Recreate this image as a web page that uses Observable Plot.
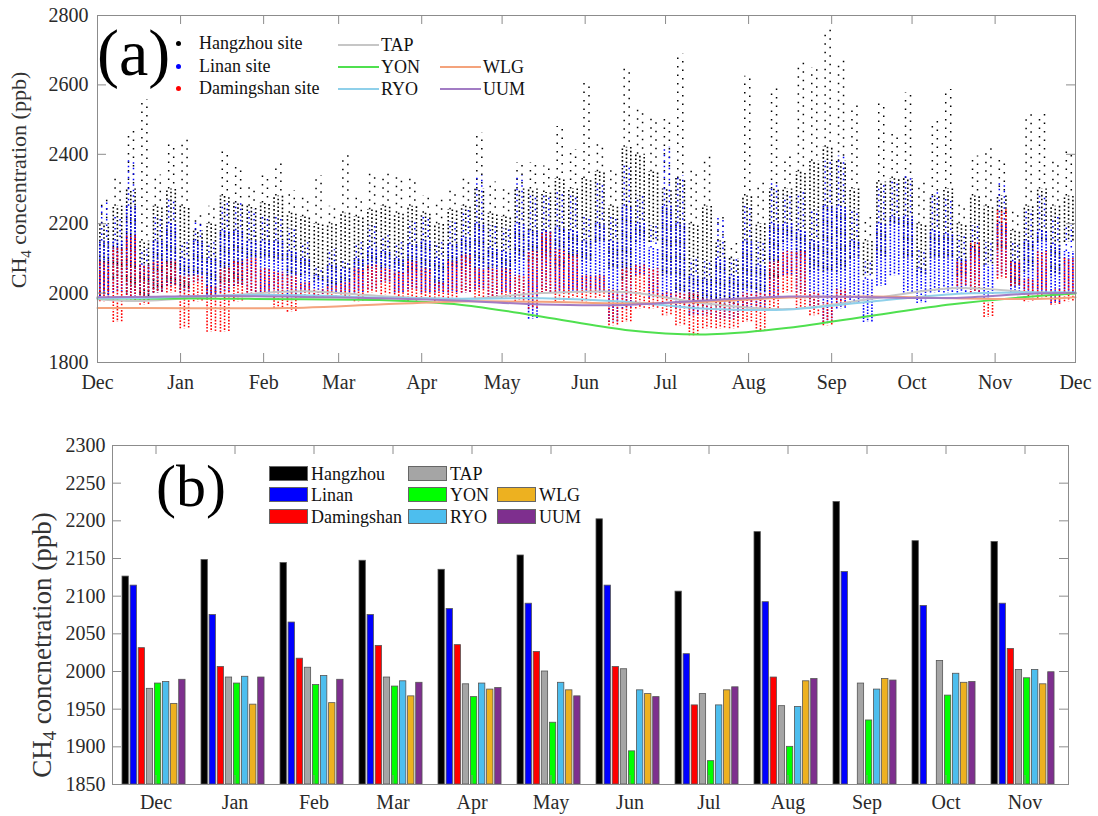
<!DOCTYPE html>
<html><head><meta charset="utf-8">
<script src="https://cdn.jsdelivr.net/npm/d3@7"></script>
<script src="https://cdn.jsdelivr.net/npm/@observablehq/plot@0.6"></script>
<style>
body{margin:0;background:#fff;}
#wrap{position:relative;width:1098px;height:816px;font-family:"Liberation Serif","Times New Roman",serif;color:#222;}
#wrap svg{display:block;font-family:"Liberation Serif","Times New Roman",serif !important;}
#wrap svg text{font-family:"Liberation Serif","Times New Roman",serif !important;}
.abs{position:absolute;white-space:nowrap;line-height:1;}
.ytitle{position:absolute;white-space:nowrap;transform:translate(-50%,-50%) rotate(-90deg);line-height:1;color:#333;}
.ytitle sub{font-size:68%;vertical-align:-0.3em;}
.leg{position:absolute;font-size:18px;line-height:1;white-space:nowrap;color:#111;}
.sw{position:absolute;width:39px;height:15px;box-sizing:border-box;border:1px solid #666;}
.ln{position:absolute;width:41px;height:2px;}
.dt{position:absolute;width:5px;height:5px;border-radius:50%;}
</style></head><body><div id="wrap"></div>
<script>
// ---------------- data ----------------
const months = ["Dec","Jan","Feb","Mar","Apr","May","Jun","Jul","Aug","Sep","Oct","Nov"];
const monthLabelsA = ["Dec","Jan","Feb","Mar","Apr","May","Jun","Jul","Aug","Sep","Oct","Nov","Dec"];
const yTicksA = [1800, 2000, 2200, 2400, 2600, 2800];
const yTicksB = [1850, 1900, 1950, 2000, 2050, 2100, 2150, 2200, 2250, 2300];
const sites = ["Hangzhou","Linan","Damingshan","TAP","YON","RYO","WLG","UUM"];
const colors = ["#000000","#0000ff","#ff0000","#a5a5a5","#00ff00","#4dbeee","#edb120","#7e2f8e"];
const lineSites = ["TAP","YON","RYO","WLG","UUM"];
const lineColors = ["#c6c6c6","#4fe04f","#8fd0ea","#f4a37c","#a27cc4"];

// monthly means (panel b), Dec..Nov
const hangzhou   = [2126,2148,2144,2147,2135,2154,2202,2106,2185,2225,2173,2172];
const linan      = [2114,2075,2065,2075,2083,2090,2114,2023,2092,2132,2087,2090];
const damingshan = [2031,2006,2017,2034,2035,2026,2006,1955,1992,null,null,2030];
const tap        = [1977,1992,2005,1992,1983,2000,2003,1970,1954,1984,2014,2002];
const yon        = [1984,1984,1982,1980,1966,1932,1894,1881,1900,1935,1968,1991];
const ryo        = [1986,1993,1994,1987,1984,1985,1975,1955,1953,1976,1997,2002];
const wlg        = [1957,1956,1958,1967,1976,1975,1970,1975,1987,1990,1985,1983];
const uum        = [1989,1992,1989,1985,1978,1967,1966,1979,1990,1988,1986,1999];
// background-site curve end values in panel (a) (Dec 1 start, Dec 1 end)
const lineStart = [1982,1985,1985,1957,1988];
const lineEnd   = [2000,1999,2002,1988,2000];

// panel (a): 5-day windows from Dec 1: low, top of dense part, highest point of the hourly cloud
const hzLo = [1990,2040,2000,1975,2000,2020,2010,2050,1985,2030,2020,2100,2100,2090,2050,2050,2030,2020,2030,2050,2070,2070,2050,2060,2050,2020,2070,2070,2070,2070,2050,2090,2090,2100,2070,2100,2090,2146,2070,2040,2146,2146,2050,2000,1960,1960,1960,1960,2010,2000,2040,2146,2100,2060,2060,2060,2100,2050,2100,2194,2100,2050,2100,2100,2050,2100,2080,2125,2020,2060,2146,2050,2146];
const hzCore = [2200,2250,2300,2150,2250,2300,2250,2180,2200,2280,2260,2250,2260,2280,2230,2220,2200,2200,2230,2220,2240,2250,2230,2250,2230,2200,2240,2250,2300,2230,2220,2300,2300,2290,2330,2300,2330,2350,2250,2420,2400,2350,2300,2330,2200,2250,2150,2100,2280,2200,2300,2300,2350,2380,2420,2380,2300,2150,2320,2330,2330,2200,2280,2300,2200,2280,2250,2280,2180,2250,2300,2250,2280];
const hzHi = [2270,2330,2467,2558,2340,2434,2443,2225,2250,2414,2366,2310,2338,2375,2295,2280,2338,2250,2400,2280,2347,2347,2333,2330,2280,2270,2300,2338,2462,2320,2300,2375,2375,2366,2480,2414,2610,2434,2357,2654,2530,2510,2510,2688,2357,2395,2220,2146,2625,2320,2590,2395,2664,2650,2760,2673,2540,2220,2553,2460,2577,2320,2500,2587,2260,2395,2420,2385,2240,2520,2520,2380,2414];
const lnLo = [1990,2000,1985,1975,2000,2020,2000,2030,1985,2000,2020,2000,2000,2000,1985,2000,1985,2000,2000,2000,2010,2030,2000,2010,2000,2000,2000,2000,2010,1985,2000,1985,1925,2000,2000,2000,2000,2000,1915,1954,2050,1985,1985,1954,1935,1935,1925,1925,1954,1954,1985,2050,2000,1954,1915,1954,1970,1915,2020,2050,2000,1970,2000,2000,2000,2000,1985,2050,2000,2000,2000,1970,2000];
const lnCore = [2150,2150,2250,2080,2150,2200,2100,2150,2100,2180,2180,2150,2150,2150,2120,2100,2050,2080,2070,2100,2130,2120,2100,2140,2150,2100,2140,2160,2200,2130,2120,2200,2180,2180,2190,2180,2150,2200,2150,2250,2200,2130,2250,2200,2050,2040,2100,2050,2150,2080,2200,2200,2180,2150,2250,2250,2150,2040,2200,2220,2220,2070,2180,2170,2100,2130,2080,2200,2090,2150,2180,2140,2120];
const lnHi = [2260,2220,2386,2125,2220,2271,2145,2205,2145,2260,2260,2240,2220,2220,2185,2145,2070,2125,2090,2145,2195,2165,2145,2205,2220,2145,2205,2240,2338,2195,2185,2338,2280,2280,2290,2280,2220,2320,2220,2366,2280,2195,2420,2338,2098,2090,2220,2098,2250,2146,2320,2280,2290,2240,2380,2395,2240,2090,2310,2320,2338,2125,2290,2270,2165,2195,2146,2320,2146,2240,2280,2220,2195];
const dmLo = [1975,1915,1975,1965,2000,2000,1897,1975,1887,1887,1975,2000,1995,1955,1945,1985,1985,1985,1985,1975,2000,1995,1985,1975,1985,1975,1975,2000,1985,1985,1985,1975,1954,2000,1975,1985,1975,1985,1906,1915,1954,1954,1935,1906,1877,1897,1897,1897,1915,1887,1954,2000,1954,1935,1906,1960,null,null,null,null,null,null,null,null,2020,2000,1930,2040,2020,1975,1985,1965,1975];
const dmHi = [2090,2130,2165,2080,2090,2090,2050,2050,2020,2070,2090,2100,2070,2060,2050,2030,2010,2020,2030,2070,2080,2070,2060,2090,2070,2030,2090,2110,2070,2070,2070,2050,2120,2175,2125,2110,2050,2050,2010,2070,2080,2070,2000,2000,2000,1983,1975,1973,2000,2000,2090,2120,2120,2000,1973,2010,null,null,null,null,null,null,null,null,2090,2146,1973,2240,2090,2040,2120,2010,2100];

// ---------------- helpers ----------------
const startA = Date.UTC(2012, 11, 1), endA = Date.UTC(2013, 11, 1);
const DAY = 864e5;
const monthStarts = d3.utcMonth.range(new Date(startA), new Date(endA + DAY));
const midMonths = months.map((m, i) => new Date(Date.UTC(2012, 11 + i, 16)));
const axisGrey = "#8c8c8c";
const numFmt = d => String(d);

function windows(lo, hi) {
  return lo.map((l, i) => ({date: new Date(startA + (5 * i + 2.5) * DAY), lo: l, hi: hi[i]}))
           .filter(d => d.lo != null && d.hi != null && d.hi > d.lo);
}
// dense dotted streaks
function cloud(rows, color, gap) {
  const base = {x: "date", y1: "lo", y2: "hi", stroke: color, strokeWidth: 1.6, strokeDasharray: `1.6 ${gap}`};
  return [
    Plot.ruleX(rows, {...base, dx: -4.3}),
    Plot.ruleX(rows, {...base, dx: -0.2, strokeDashoffset: 1.3}),
    Plot.ruleX(rows, {...base, dx: 4.1, strokeDashoffset: 2.4})
  ];
}
// sparse outlying points
function sparse(rows, color, gap) {
  const base = {x: "date", y1: "lo", y2: "hi", stroke: color, strokeWidth: 1.5, strokeDasharray: `1.5 ${gap}`};
  return [
    Plot.ruleX(rows, {...base, dx: -2.5}),
    Plot.ruleX(rows, {...base, dx: 2.5, strokeDashoffset: gap / 2})
  ];
}
const bgSeries = [tap, yon, ryo, wlg, uum];
const lineRows = bgSeries.flatMap((vals, k) => [
  {site: lineSites[k], date: new Date(startA), v: lineStart[k]},
  ...vals.map((v, i) => ({site: lineSites[k], date: midMonths[i], v})),
  {site: lineSites[k], date: new Date(endA), v: lineEnd[k]}
]);

// ---------------- panel (a) ----------------
const WA = 1098, HA = 410, mA = {t: 15, b: 48, l: 97, r: 23};
const pwA = WA - mA.l - mA.r, phA = HA - mA.t - mA.b;
const tick = 9;
const plotA = Plot.plot({
  width: WA, height: HA, marginTop: mA.t, marginBottom: mA.b, marginLeft: mA.l, marginRight: mA.r,
  style: {fontSize: "20px", color: "#2a2a2a", background: "white"},
  x: {type: "utc", domain: [new Date(startA), new Date(endA)]},
  y: {domain: [1800, 2800]},
  marks: [
    ...cloud(windows(hzLo, hzCore), "#000000", 2.3),
    ...sparse(windows(hzCore, hzHi), "#000000", 7),
    ...cloud(windows(lnLo, lnCore), "#0000ff", 1.5),
    ...sparse(windows(lnCore, lnHi), "#0000ff", 4),
    ...cloud(windows(dmLo, dmHi), "#ff0000", 1.6),
    ...lineSites.map((s, k) => Plot.line(lineRows.filter(d => d.site === s),
        {x: "date", y: "v", stroke: lineColors[k], strokeWidth: 2, curve: "catmull-rom"})),
    Plot.frame({stroke: axisGrey}),
    Plot.ruleX(monthStarts, {x: d => d, insetTop: phA - tick, stroke: axisGrey}),
    Plot.ruleX(monthStarts, {x: d => d, insetBottom: phA - tick, stroke: axisGrey}),
    Plot.ruleY(yTicksA, {y: d => d, insetRight: pwA - tick, stroke: axisGrey}),
    Plot.ruleY(yTicksA, {y: d => d, insetLeft: pwA - tick, stroke: axisGrey}),
    Plot.axisY(yTicksA, {tickSize: 0, tickPadding: 9, label: null, tickFormat: numFmt}),
    Plot.axisX(monthStarts, {tickSize: 0, tickPadding: 12, label: null,
      tickFormat: d => monthLabelsA[monthStarts.findIndex(m => +m === +d)]})
  ]
});

// ---------------- panel (b) ----------------
const WB = 1098, HB = 406, mB = {t: 35, b: 32, l: 112, r: 30};
const pwB = WB - mB.l - mB.r, phB = HB - mB.t - mB.b;
const step = pwB / months.length;
const yDomainB = [1850, 2300];
const table = months.map((m, i) => ({month: m,
  Hangzhou: hangzhou[i], Linan: linan[i], Damingshan: damingshan[i], TAP: tap[i],
  YON: yon[i], RYO: ryo[i], WLG: wlg[i], UUM: uum[i]}));
const barW = 7, pitch = 8.1, lead = 6;
const bars = sites.map((s, k) => Plot.barY(table.filter(d => d[s] != null), {
  x: "month", y1: yDomainB[0], y2: s, fill: colors[k], stroke: "#555", strokeWidth: 0.8,
  insetLeft: lead + pitch * k, insetRight: step - (lead + pitch * k + barW)
}));
const plotB = Plot.plot({
  width: WB, height: HB, marginTop: mB.t, marginBottom: mB.b, marginLeft: mB.l, marginRight: mB.r,
  style: {fontSize: "20px", color: "#2a2a2a", background: "white"},
  x: {type: "band", domain: months, padding: 0},
  y: {domain: yDomainB},
  marks: [
    ...bars,
    Plot.frame({stroke: axisGrey}),
    Plot.ruleX(months, {x: d => d, insetTop: phB - tick, stroke: axisGrey}),
    Plot.ruleX(months, {x: d => d, insetBottom: phB - tick, stroke: axisGrey}),
    Plot.ruleY(yTicksB, {y: d => d, insetRight: pwB - tick, stroke: axisGrey}),
    Plot.ruleY(yTicksB, {y: d => d, insetLeft: pwB - tick, stroke: axisGrey}),
    Plot.axisY(yTicksB, {tickSize: 0, tickPadding: 7, label: null, tickFormat: numFmt}),
    Plot.axisX({tickSize: 0, tickPadding: 10, label: null})
  ]
});

// ---------------- assemble ----------------
const wrap = document.getElementById("wrap");
wrap.appendChild(plotA);
wrap.appendChild(plotB);
function add(html, cls, css) {
  const el = document.createElement("div");
  el.className = cls; el.innerHTML = html; Object.assign(el.style, css); wrap.appendChild(el); return el;
}
// titles
add("CH<sub>4</sub> concentration (ppb)", "ytitle", {left: "21px", top: "180px", fontSize: "22px"});
add("CH<sub>4</sub> concnetration (ppb)", "ytitle", {left: "44px", top: "645px", fontSize: "27px"});
add("(a)", "abs", {left: "97px", top: "20px", fontSize: "66px", color: "#000"});
add("(b)", "abs", {left: "156px", top: "456px", fontSize: "60px", color: "#000"});

// legend (a)
const legA1 = ["Hangzhou site", "Linan site", "Damingshan site"];
const dotCols = ["#000000", "#0000ff", "#ff0000"];
const rowsA = [43, 66, 88];
legA1.forEach((t, i) => {
  add("", "dt", {left: "176px", top: (rowsA[i] - 2.5) + "px", background: dotCols[i]});
  add(t, "leg", {left: "199px", top: (rowsA[i] - 9) + "px"});
});
const legA2pos = [[338, 45], [338, 67], [338, 89], [440, 67], [440, 89]];
lineSites.forEach((s, k) => {
  const [x, y] = legA2pos[k];
  add("", "ln", {left: x + "px", top: (y - 1) + "px", background: lineColors[k]});
  add(s, "leg", {left: (x + 43) + "px", top: (y - 9) + "px"});
});
// legend (b)
const legBpos = [[269, 474], [269, 495], [269, 517], [408, 474], [408, 495], [408, 517], [497, 495], [497, 517]];
sites.forEach((s, k) => {
  const [x, y] = legBpos[k];
  add("", "sw", {left: x + "px", top: (y - 8) + "px", background: colors[k]});
  add(s, "leg", {left: (x + 42) + "px", top: (y - 9) + "px"});
});
</script></body></html>
